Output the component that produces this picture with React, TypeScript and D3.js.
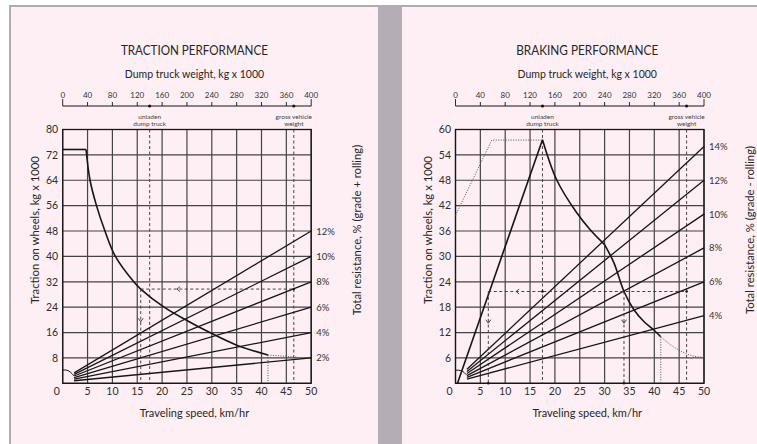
import React from 'react';
import * as d3 from 'd3';

const speedTicks = [0, 5, 10, 15, 20, 25, 30, 35, 40, 45, 50];
const weightTicks = [0, 40, 80, 120, 160, 200, 240, 280, 320, 360, 400];
const tractionTicks = [0, 8, 16, 24, 32, 40, 48, 56, 64, 72, 80];
const brakingTicks = [0, 6, 12, 18, 24, 30, 36, 42, 48, 54, 60];

const unladenWeight = 140;
const grossWeight = 372;
const gradeStartSpeed = 2.3;

// traction performance
const tractionGrades = ['2%', '4%', '6%', '8%', '10%', '12%'];
const tractionGradeStart = [0.8, 1.3, 1.8, 2.3, 2.8, 3.3];
const tractionGradeEnd = [8, 16, 24, 32, 40, 48];
const tractionFlatSpeed = [0, 4.7];
const tractionFlatForce = [73.7, 73.7];
const tractionSpeed = [4.7, 5.5, 6.8, 8.5, 10.6, 14.3, 15.7, 20.4, 25, 29.6, 34.9, 41.3];
const tractionForce = [73.7, 64, 56, 48, 40, 32, 29.7, 24, 19.8, 16, 12.1, 8.9];
const tractionTailSpeed = [41.3, 47];
const tractionTailForce = [8.9, 8.3];
const tractionArcSpeed = [0, 1.1, 1.9, 2.3];
const tractionArcForce = [4.2, 4.0, 3.0, 2.3];
const tractionReadSpeed = 15.7;
const tractionReadForce = 29.7;

// braking performance
const brakingGrades = ['4%', '6%', '8%', '10%', '12%', '14%'];
const brakingGradeStart = [1.0, 1.4, 1.8, 2.3, 2.8, 3.3];
const brakingGradeEnd = [16, 24, 32, 40, 48, 56];
const brakingRiseSpeed = [0.4, 17.5];
const brakingRiseForce = [0, 57.6];
const brakingFallSpeed = [17.5, 20.4, 24.4, 27.1, 30];
const brakingFallForce = [57.6, 48, 40.3, 36.3, 32.8];
const brakingFall2Speed = [30, 31.9, 33.9, 35.9, 37.9, 39.9, 41.3];
const brakingFall2Force = [32.8, 28.4, 21.7, 17.4, 14.6, 12.6, 11];
const brakingTailSpeed = [41.3, 43.3, 45.5, 48, 50];
const brakingTailForce = [11, 9.1, 7.5, 6.4, 6.1];
const brakingEnvSpeed = [0, 7.3, 17.5];
const brakingEnvForce = [39.7, 57.5, 57.5];
const brakingArcSpeed = [0, 1.1, 1.8, 2.2];
const brakingArcForce = [3.1, 3.0, 2.5, 2.0];
const brakingReadSpeeds = [6.6, 33.9];
const brakingReadForce = 21.7;

const FONT = 'Lato, "Open Sans", sans-serif';
const PLOT_TOP = 129.5;
const PLOT_BOTTOM = 383.3;
const PLOT_W = 248.5;
const AXIS_Y = 106;
const INK = '#161616';
const GRID = '#444444';
const TEXT = '#262626';

type Scales = { x: d3.ScaleLinear<number, number>; y: d3.ScaleLinear<number, number> };

const pathOf = (xs: number[], ys: number[], s: Scales, curve: d3.CurveFactory = d3.curveLinear) =>
  d3.line<number>().x((_, i) => s.x(xs[i])).y((_, i) => s.y(ys[i])).curve(curve)(xs) || '';

const leftArrow = (px: number, py: number) => `M${px + 3},${py - 2.5}L${px},${py}L${px + 3},${py + 2.5}`;
const downArrow = (px: number, py: number) => `M${px - 2.5},${py - 3.5}L${px},${py}L${px + 2.5},${py - 3.5}`;

type PanelProps = {
  left: number;
  title: string;
  titleWidth: number;
  rightTitle: string;
  yMax: number;
  yTicks: number[];
  grades: string[];
  gradeStart: number[];
  gradeEnd: number[];
  draw: (s: Scales) => React.ReactNode;
};

function Panel({ left, title, titleWidth, rightTitle, yMax, yTicks, grades, gradeStart, gradeEnd, draw }: PanelProps) {
  const x = d3.scaleLinear().domain([0, 50]).range([left, left + PLOT_W]);
  const y = d3.scaleLinear().domain([0, yMax]).range([PLOT_BOTTOM, PLOT_TOP]);
  const xw = d3.scaleLinear().domain([0, 400]).range([left, left + PLOT_W]);
  const s = { x, y };
  const cx = left + PLOT_W / 2 + 7.5;
  const midY = 230;

  return (
    <g fontFamily={FONT}>
      <text x={cx} y={55} textAnchor="middle" fontSize={14} fill={TEXT} textLength={titleWidth} lengthAdjust="spacingAndGlyphs">{title}</text>
      <text x={cx} y={78} textAnchor="middle" fontSize={10.5} fill={TEXT}>Dump truck weight, kg x 1000</text>

      {/* weight axis */}
      <line x1={xw(0)} x2={xw(400)} y1={AXIS_Y} y2={AXIS_Y} stroke={INK} strokeWidth={1} />
      {weightTicks.map((w, i) => (
        <g key={w}>
          <line x1={xw(w)} x2={xw(w)} y1={AXIS_Y} y2={AXIS_Y - (i === 0 || i === weightTicks.length - 1 ? 7 : 4)} stroke={INK} strokeWidth={0.9} />
          <text x={xw(w)} y={97.5} textAnchor="middle" fontSize={8} fill="#333">{w}</text>
        </g>
      ))}
      <circle cx={xw(unladenWeight)} cy={AXIS_Y} r={1.6} fill={INK} />
      <circle cx={xw(grossWeight)} cy={AXIS_Y} r={1.6} fill={INK} />
      <text x={xw(unladenWeight)} y={119} textAnchor="middle" fontSize={6.5} fill="#444">unladen</text>
      <text x={xw(unladenWeight)} y={125.5} textAnchor="middle" fontSize={6.5} fill="#444">dump truck</text>
      <text x={xw(grossWeight)} y={119} textAnchor="middle" fontSize={6.5} fill="#444">gross vehicle</text>
      <text x={xw(grossWeight)} y={125.5} textAnchor="middle" fontSize={6.5} fill="#444">weight</text>

      {/* grid */}
      {speedTicks.map((t) => (
        <line key={'v' + t} x1={x(t)} x2={x(t)} y1={PLOT_TOP} y2={PLOT_BOTTOM} stroke={GRID} strokeWidth={1.2} />
      ))}
      {yTicks.map((t) => (
        <line key={'h' + t} x1={x(0)} x2={x(50)} y1={y(t)} y2={y(t)} stroke={GRID} strokeWidth={1.2} />
      ))}
      <rect x={x(0)} y={PLOT_TOP} width={PLOT_W} height={PLOT_BOTTOM - PLOT_TOP} fill="none" stroke={INK} strokeWidth={1.3} />

      {/* tick labels */}
      {yTicks.filter((t) => t > 0).map((t) => (
        <text key={'yl' + t} x={x(0) - 4.5} y={y(t) + 3.8} textAnchor="end" fontSize={10.5} fill="#2e2e2e">{t}</text>
      ))}
      {speedTicks.map((t) => (
        <text key={'xl' + t} x={t === 0 ? x(0) - 6 : x(t)} y={395} textAnchor="middle" fontSize={10.5} fill="#2e2e2e">{t}</text>
      ))}

      {/* axis titles */}
      <text x={cx} y={417} textAnchor="middle" fontSize={11} fill={TEXT}>Traveling speed, km/hr</text>
      <text transform={`translate(${left - 28},${midY}) rotate(-90)`} textAnchor="middle" dominantBaseline="central" fontSize={11.3} fill={TEXT}>
        Traction on wheels, kg x 1000
      </text>
      <text transform={`translate(${left + PLOT_W + 45},${midY}) rotate(-90)`} textAnchor="middle" dominantBaseline="central" fontSize={11.3} fill={TEXT}>
        {rightTitle}
      </text>

      {/* unladen / gross weight guides */}
      {[unladenWeight, grossWeight].map((w) => (
        <line key={'g' + w} x1={xw(w)} x2={xw(w)} y1={PLOT_TOP} y2={PLOT_BOTTOM} stroke="#333" strokeWidth={0.9} strokeDasharray="3,2.5" />
      ))}

      {/* grade lines */}
      {grades.map((g, i) => (
        <g key={g}>
          <path d={pathOf([gradeStartSpeed, 50], [gradeStart[i], gradeEnd[i]], s)} stroke={INK} strokeWidth={1.3} fill="none" />
          <text x={x(50) + 5} y={y(gradeEnd[i]) + 3.5} fontSize={9.5} fill="#333">{g}</text>
        </g>
      ))}

      {draw(s)}
    </g>
  );
}

export default function App() {
  const W = 757;
  const H = 444;
  return (
    <svg width={W} height={H} style={{ position: 'absolute', left: 0, top: 0 }}>
      <rect x={0} y={0} width={W} height={H} fill="#ffffff" />
      <rect x={9} y={5} width={W - 9} height={H - 5} fill="#b3aab3" />
      <rect x={11} y={7} width={367} height={H - 7} fill="#fdeff3" />
      <rect x={402} y={7} width={W - 402} height={H - 7} fill="#fdeff3" />
      <rect x={378} y={7} width={24} height={H - 7} fill="#b5adb6" />

      <Panel
        left={62.7}
        title="TRACTION PERFORMANCE"
        titleWidth={147}
        rightTitle="Total resistance, % (grade + rolling)"
        yMax={80}
        yTicks={tractionTicks}
        grades={tractionGrades}
        gradeStart={tractionGradeStart}
        gradeEnd={tractionGradeEnd}
        draw={(s) => (
          <g>
            <path d={pathOf(tractionArcSpeed, tractionArcForce, s, d3.curveNatural)} stroke={INK} strokeWidth={1} fill="none" />
            <path d={pathOf(tractionFlatSpeed, tractionFlatForce, s)} stroke={INK} strokeWidth={1.6} fill="none" />
            <path d={pathOf(tractionSpeed, tractionForce, s, d3.curveCatmullRom.alpha(0.5))} stroke={INK} strokeWidth={1.6} fill="none" />
            <path d={pathOf(tractionTailSpeed, tractionTailForce, s)} stroke="#555" strokeWidth={1} strokeDasharray="1,1.5" fill="none" />
            <line x1={s.x(tractionTailSpeed[0])} x2={s.x(tractionTailSpeed[0])} y1={s.y(tractionTailForce[0])} y2={s.y(0)} stroke="#555" strokeWidth={1} strokeDasharray="1,1.5" />
            <line x1={s.x(tractionReadSpeed)} x2={s.x(grossWeight / 8)} y1={s.y(tractionReadForce)} y2={s.y(tractionReadForce)} stroke="#333" strokeWidth={0.9} strokeDasharray="3,2.5" />
            <line x1={s.x(tractionReadSpeed)} x2={s.x(tractionReadSpeed)} y1={s.y(tractionReadForce)} y2={s.y(0)} stroke="#333" strokeWidth={0.9} strokeDasharray="3,2.5" />
            <path d={leftArrow(s.x(23), s.y(tractionReadForce))} stroke="#333" strokeWidth={0.9} fill="none" />
            <path d={downArrow(s.x(tractionReadSpeed), s.y(19.4))} stroke="#333" strokeWidth={0.9} fill="none" />
            <circle cx={s.x(grossWeight / 8)} cy={s.y(tractionReadForce)} r={1.3} fill={INK} />
          </g>
        )}
      />

      <Panel
        left={455.5}
        title="BRAKING PERFORMANCE"
        titleWidth={142}
        rightTitle="Total resistance, % (grade - rolling)"
        yMax={60}
        yTicks={brakingTicks}
        grades={brakingGrades}
        gradeStart={brakingGradeStart}
        gradeEnd={brakingGradeEnd}
        draw={(s) => (
          <g>
            <path d={pathOf(brakingArcSpeed, brakingArcForce, s, d3.curveNatural)} stroke={INK} strokeWidth={1} fill="none" />
            <path d={pathOf(brakingEnvSpeed, brakingEnvForce, s)} stroke="#555" strokeWidth={1} strokeDasharray="1,1.5" fill="none" />
            <path d={pathOf(brakingRiseSpeed, brakingRiseForce, s)} stroke={INK} strokeWidth={1.6} fill="none" />
            <path d={pathOf(brakingFallSpeed, brakingFallForce, s, d3.curveCatmullRom.alpha(0.5))} stroke={INK} strokeWidth={1.6} fill="none" />
            <path d={pathOf(brakingFall2Speed, brakingFall2Force, s, d3.curveCatmullRom.alpha(0.5))} stroke={INK} strokeWidth={1.6} fill="none" />
            <path d={pathOf(brakingTailSpeed, brakingTailForce, s, d3.curveMonotoneX)} stroke="#555" strokeWidth={1} strokeDasharray="1,1.5" fill="none" />
            <line x1={s.x(brakingTailSpeed[0])} x2={s.x(brakingTailSpeed[0])} y1={s.y(brakingTailForce[0])} y2={s.y(0)} stroke="#555" strokeWidth={1} strokeDasharray="1,1.5" />
            <line x1={s.x(brakingReadSpeeds[0])} x2={s.x(grossWeight / 8)} y1={s.y(brakingReadForce)} y2={s.y(brakingReadForce)} stroke="#333" strokeWidth={0.9} strokeDasharray="3,2.5" />
            {brakingReadSpeeds.map((v) => (
              <g key={v}>
                <line x1={s.x(v)} x2={s.x(v)} y1={s.y(brakingReadForce)} y2={s.y(0)} stroke="#333" strokeWidth={0.9} strokeDasharray="3,2.5" />
                <path d={downArrow(s.x(v), s.y(14.2))} stroke="#333" strokeWidth={0.9} fill="none" />
                <circle cx={s.x(v)} cy={s.y(0)} r={1.3} fill={INK} />
              </g>
            ))}
            <path d={leftArrow(s.x(12.2), s.y(brakingReadForce))} stroke="#333" strokeWidth={0.9} fill="none" />
            <circle cx={s.x(unladenWeight / 8)} cy={s.y(brakingReadForce)} r={1.3} fill={INK} />
            <circle cx={s.x(grossWeight / 8)} cy={s.y(brakingReadForce)} r={1.3} fill={INK} />
          </g>
        )}
      />
    </svg>
  );
}
